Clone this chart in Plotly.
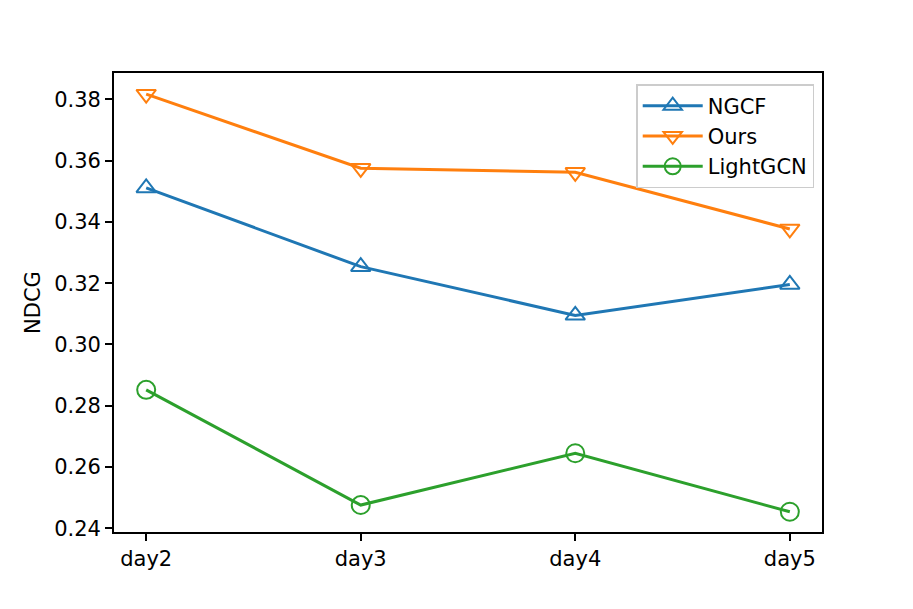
import plotly.graph_objects as go

# data
days = ["day2", "day3", "day4", "day5"]
ngcf = [0.3511, 0.3254, 0.3095, 0.3196]
ours = [0.3817, 0.3575, 0.3562, 0.3377]
lightgcn = [0.2852, 0.2476, 0.2645, 0.2454]
y_ticks = [0.24, 0.26, 0.28, 0.30, 0.32, 0.34, 0.36, 0.38]

FONT = "DejaVu Sans, sans-serif"
FS = 21

series = [
    ("NGCF", ngcf, "#1f77b4", "triangle-up-open", 17),
    ("Ours", ours, "#ff7f0e", "triangle-down-open", 17),
    ("LightGCN", lightgcn, "#2ca02c", "circle-open", 18),
]

fig = go.Figure()
for name, vals, color, symbol, size in series:
    fig.add_trace(go.Scatter(
        x=list(range(len(days))),
        y=vals,
        name=name,
        mode="lines+markers",
        line=dict(color=color, width=3),
        marker=dict(symbol=symbol, size=size, color=color,
                    line=dict(color=color, width=2)),
    ))

# page body adds an 8px margin, so the figure is a bit smaller than the window
fig.update_layout(
    width=905,
    height=601,
    margin=dict(l=106, r=91, t=65, b=77),
    plot_bgcolor="white",
    paper_bgcolor="white",
    font=dict(family=FONT, size=FS, color="black"),
    showlegend=True,
    legend=dict(
        x=0.989, y=0.976, xanchor="right", yanchor="top",
        bgcolor="rgba(255,255,255,0.8)",
        bordercolor="#cccccc", borderwidth=1.5,
        itemwidth=60,
        font=dict(family=FONT, size=FS),
    ),
    xaxis=dict(
        range=[-0.15, 3.15],
        tickmode="array",
        tickvals=list(range(len(days))),
        ticktext=days,
        showgrid=False, zeroline=False,
        showline=True, linecolor="black", linewidth=1.7, mirror=True,
        ticks="outside", ticklen=7, tickwidth=1.7, tickcolor="black",
    ),
    yaxis=dict(
        range=[0.2388, 0.3886],
        tickmode="array",
        tickvals=y_ticks,
        ticktext=[f"{v:.2f}" for v in y_ticks],
        showgrid=False, zeroline=False,
        showline=True, linecolor="black", linewidth=1.7, mirror=True,
        ticks="outside", ticklen=7, tickwidth=1.7, tickcolor="black",
        title=dict(text="NDCG", standoff=8, font=dict(size=FS)),
    ),
)

fig.write_html("out.html")
